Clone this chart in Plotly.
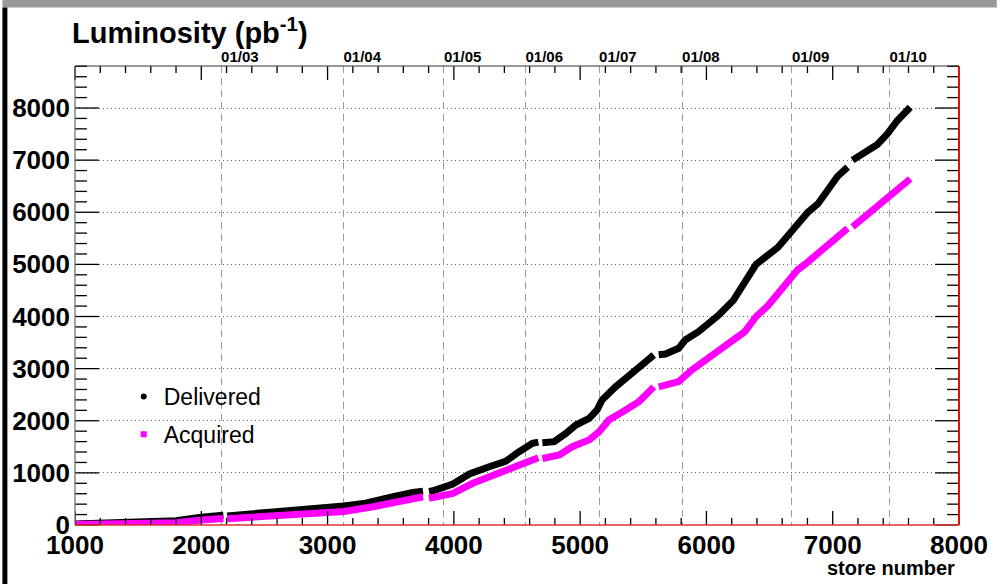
import plotly.graph_objects as go

# ---------------- data ----------------
# None marks a gap in the store sequence
delivered_store = [1000, 1200, 1400, 1600, 1800, 2000, 2175, None,
                   2205, 2400, 2600, 2800, 3000, 3130, 3300, 3360, 3520, 3677, 3756, None,
                   3803, 3835, 3992, 4123, 4280, 4409, 4517, 4622, 4669, None,
                   4701, 4795, 4887, 4966, 5071, 5134, 5173, 5281, 5410, 5518, 5583, None,
                   5622, 5675, 5780, 5832, 5937, 6016, 6094, 6213, 6393, 6567, 6724, 6803,
                   6882, 6961, 7039, 7118, None,
                   7157, 7276, 7354, 7433, 7512, 7614]
delivered_lumi = [20, 30, 45, 60, 80, 150, 185, None,
                  175, 210, 245, 285, 335, 365, 420, 447, 542, 626, 650, None,
                  645, 657, 785, 978, 1118, 1220, 1406, 1567, 1590, None,
                  1580, 1598, 1758, 1918, 2046, 2206, 2398, 2653, 2910, 3133, 3261, None,
                  3265, 3280, 3390, 3549, 3708, 3850, 4020, 4310, 5000, 5330, 5780, 6000,
                  6160, 6420, 6690, 6865, None,
                  7000, 7160, 7300, 7505, 7760, 8015]

acquired_store = [1000, 1200, 1400, 1600, 1800, 2000, 2175, None,
                  2205, 2400, 2600, 2800, 3000, 3130, 3360, 3520, 3677, 3756, None,
                  3803, 3835, 3992, 4150, 4362, 4520, 4669, None,
                  4701, 4835, 4937, 5071, 5150, 5228, 5360, 5465, 5583, None,
                  5622, 5780, 5885, 5990, 6094, 6173, 6304, 6394, 6488, 6567, 6724, 6780,
                  6882, 7039, 7118, None,
                  7157, 7290, 7433, 7512, 7614]
acquired_lumi = [10, 12, 18, 28, 45, 95, 125, None,
                 120, 155, 185, 212, 236, 258, 350, 415, 492, 542, None,
                 511, 530, 607, 800, 990, 1160, 1290, None,
                 1275, 1343, 1502, 1630, 1790, 2014, 2206, 2366, 2650, None,
                 2650, 2750, 2974, 3165, 3320, 3480, 3710, 4000, 4210, 4440, 4900, 5000,
                 5210, 5530, 5690, None,
                 5720, 6000, 6290, 6450, 6640]

date_store = [2157, 3126, 3921, 4567, 5150, 5807, 6677, 7449]
date_labels = ["01/03", "01/04", "01/05", "01/06", "01/07", "01/08", "01/09", "01/10"]

series_names = ["Delivered", "Acquired"]
series_colors = ["#000000", "#ff00ff"]

X_RANGE = [1000, 8000]
Y_RANGE = [0, 8806]
X_MAJOR, X_MINOR = 1000, 200
Y_MAJOR, Y_MINOR = 1000, 200

FONT = "Liberation Sans, Arial, Helvetica, sans-serif"

W, H = 1000, 584
L, R, T, B = 73, 38, 66, 59
PW, PH = W - L - R, H - T - B


def px(xp):
    return (xp - L) / PW


def py(yp):
    return (H - B - yp) / PH


def xfrac(v):
    return (v - X_RANGE[0]) / (X_RANGE[1] - X_RANGE[0])


def yfrac(v):
    return (v - Y_RANGE[0]) / (Y_RANGE[1] - Y_RANGE[0])


fig = go.Figure()

# data curves (dense markers rendered as thick lines)
fig.add_trace(go.Scatter(x=delivered_store, y=delivered_lumi, mode="lines",
                         line=dict(color=series_colors[0], width=7),
                         connectgaps=False, showlegend=False, hoverinfo="skip"))
fig.add_trace(go.Scatter(x=acquired_store, y=acquired_lumi, mode="lines",
                         line=dict(color=series_colors[1], width=7),
                         connectgaps=False, showlegend=False, hoverinfo="skip"))

# bottom axis tick marks drawn as a decoration trace (inside, ROOT style)
y_per_px = (Y_RANGE[1] - Y_RANGE[0]) / PH
btick_x, btick_y = [], []
for v in range(X_RANGE[0], X_RANGE[1] + 1, X_MINOR):
    ln = (14 if v % X_MAJOR == 0 else 7) * y_per_px
    btick_x += [v, v, None]
    btick_y += [Y_RANGE[0], Y_RANGE[0] + ln, None]
fig.add_trace(go.Scatter(x=btick_x, y=btick_y, mode="lines", cliponaxis=False,
                         line=dict(color="#000000", width=1.3),
                         showlegend=False, hoverinfo="skip"))

# legend entries (marker style as in the reference)
fig.add_trace(go.Scatter(x=[None], y=[None], mode="markers", name=series_names[0],
                         legendgroup="g1",
                         marker=dict(color=series_colors[0], size=6, symbol="circle"),
                         xaxis="x2"))
fig.add_trace(go.Scatter(x=[None], y=[None], mode="markers", name=series_names[1],
                         legendgroup="g2",
                         marker=dict(color=series_colors[1], size=6, symbol="square"),
                         xaxis="x2"))

shapes = [
    # top grey band
    dict(type="rect", xref="paper", yref="paper", x0=px(0), x1=px(W), y0=py(7.5), y1=py(0),
         fillcolor="#999999", line=dict(width=0), layer="above"),
    # left black band
    dict(type="rect", xref="paper", yref="paper", x0=px(0), x1=px(5), y0=py(H), y1=py(7.5),
         fillcolor="#000000", line=dict(width=0), layer="above"),
    # white legend background
    dict(type="rect", xref="paper", yref="paper", x0=px(102), x1=px(358), y0=py(455), y1=py(375),
         fillcolor="white", line=dict(width=0), layer="between"),
]

# tick marks on the other sides (inside), ROOT style
TICK = dict(color="#000000", width=1.3)
for v in range(X_RANGE[0], X_RANGE[1] + 1, X_MINOR):
    ln = (14 if v % X_MAJOR == 0 else 7) / PH
    f = xfrac(v)
    shapes.append(dict(type="line", xref="paper", yref="paper", x0=f, x1=f, y0=1, y1=1 - ln,
                       line=TICK, layer="above"))
for v in range(0, int(Y_RANGE[1]) + 1, Y_MINOR):
    ln = (24 if v % Y_MAJOR == 0 else 12) / PW
    f = yfrac(v)
    shapes.append(dict(type="line", xref="paper", yref="paper", x0=0, x1=ln, y0=f, y1=f,
                       line=TICK, layer="above"))
    shapes.append(dict(type="line", xref="paper", yref="paper", x0=1, x1=1 - ln, y0=f, y1=f,
                       line=TICK, layer="above"))

# frame lines
shapes += [
    dict(type="line", xref="paper", yref="paper", x0=0, x1=1, y0=1, y1=1,
         line=dict(color="#333333", width=1.2), layer="above"),
    dict(type="line", xref="paper", yref="paper", x0=0, x1=0, y0=0, y1=1,
         line=dict(color="#666666", width=1.2), layer="above"),
    dict(type="line", xref="paper", yref="paper", x0=1, x1=1, y0=0, y1=1,
         line=dict(color="#e01010", width=2), layer="above"),
    dict(type="line", xref="paper", yref="paper", x0=0, x1=1, y0=0, y1=0,
         line=dict(color="#e03030", width=1.5), layer="above"),
]

tickfont_big = dict(family=FONT, size=26, weight="bold", color="black")

fig.update_layout(
    width=W, height=H,
    margin=dict(l=L, r=R, t=T, b=B, pad=0),
    paper_bgcolor="white", plot_bgcolor="white",
    font=dict(family=FONT, color="black"),
    title=dict(text="Luminosity (pb<sup>-1</sup>)", x=0.072, xanchor="left",
               y=1 - 33 / H, yanchor="middle",
               font=dict(family=FONT, size=29, weight="bold", color="black")),
    xaxis=dict(range=X_RANGE, tick0=0, dtick=X_MAJOR, ticks="", showline=False,
               showgrid=False, zeroline=False, tickfont=tickfont_big,
               ticklabelstandoff=2),
    xaxis2=dict(overlaying="x", side="top", range=X_RANGE,
                tickmode="array", tickvals=date_store, ticktext=date_labels,
                ticks="", showline=False, zeroline=False,
                showgrid=True, gridcolor="#9a9a9a", gridwidth=1, griddash="7px,5px",
                ticklabelposition="outside right",
                tickfont=dict(family=FONT, size=15, weight="bold", color="black")),
    yaxis=dict(range=Y_RANGE, tick0=0, dtick=Y_MAJOR, ticks="", showline=False,
               zeroline=False,
               showgrid=True, gridcolor="#666666", gridwidth=1, griddash="1px,3px",
               tickfont=tickfont_big, ticklabelstandoff=4),
    legend=dict(x=px(122), y=py(375), xanchor="left", yanchor="top",
                bgcolor="rgba(0,0,0,0)", borderwidth=0, tracegroupgap=5,
                font=dict(family=FONT, size=23, color="black")),
    shapes=shapes,
    annotations=[dict(text="store number", xref="paper", yref="paper",
                      x=px(960), y=py(568), xanchor="right", yanchor="middle",
                      showarrow=False,
                      font=dict(family=FONT, size=20, weight="bold", color="black"))],
)

fig.write_html("out.html")
